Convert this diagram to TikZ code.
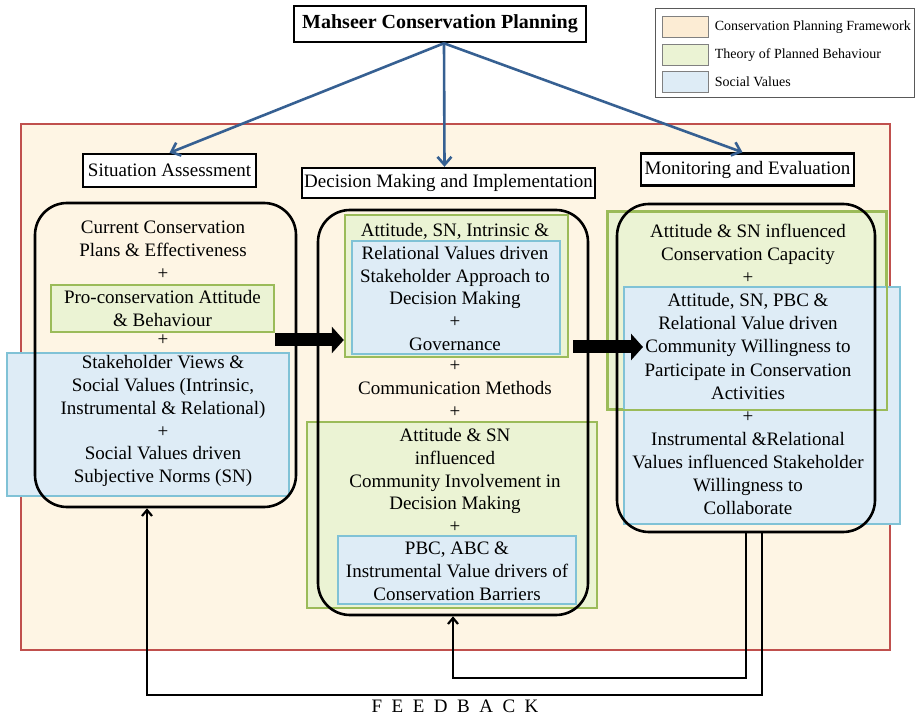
\documentclass[tikz,border=0pt]{standalone}
\usepackage{fontspec}
\setmainfont{Liberation Serif}
\usetikzlibrary{arrows.meta, positioning}

\definecolor{frameRed}{RGB}{192,80,77}
\definecolor{frameFill}{RGB}{254,245,228}
\definecolor{cpfSwatch}{RGB}{252,236,212}
\definecolor{tpbEdge}{RGB}{155,187,89}
\definecolor{tpbFill}{RGB}{235,243,212}
\definecolor{svEdge}{RGB}{128,194,214}
\definecolor{svFill}{RGB}{222,236,246}
\definecolor{planBlue}{RGB}{54,96,146}

\begin{document}
\begin{tikzpicture}[x=0.5pt, y=-0.5pt,
            every node/.style={ font=\fontsize{9.5}{11.45}\selectfont },
            titlebox/.style={ rectangle, draw, line width=1.3pt, fill=white, minimum width=146pt, minimum height=18pt, font=\fontsize{10}{12}\selectfont\bfseries },
            stagebox/.style={ rectangle, draw, line width=1.2pt, fill=white, inner sep=0pt },
            phasebox/.style={ rectangle, draw, line width=1.3pt, rounded corners=16pt },
            tpb/.style={ rectangle, draw=tpbEdge, line width=1.2pt, fill=tpbFill },
            socval/.style={ rectangle, draw=svEdge, line width=1.2pt, fill=svFill },
            txt/.style={ align=center, inner sep=0pt },
            swatch/.style={ rectangle, draw=gray, line width=0.5pt, minimum width=23pt, minimum height=10.5pt },
            legtxt/.style={ inner sep=0pt, font=\fontsize{7}{8}\selectfont },
            planarrow/.style={ draw=planBlue, line width=1.3pt, -{Straight Barb[length=4pt, width=7pt]} },
            fatarrow/.style={ line width=6.5pt, -{Triangle[length=6pt, width=13pt]} },
            fbline/.style={ line width=1.1pt, -{Straight Barb[length=3pt, width=5pt]} }
        ]
            \useasboundingbox (0,0) rectangle (915,716);

            % Framework area
            \node (frame) [rectangle, draw=frameRed, line width=1pt, fill=frameFill, minimum width=434.5pt, minimum height=263pt] at (455.5,387) {};

            % Legend
            \node (legend) [rectangle, draw=gray!70!black, line width=0.5pt, minimum width=129.5pt, minimum height=44.5pt] at (784.5,53.5) {};
            \node (swcpf) [swatch, fill=cpfSwatch] at (685,27.5) {};
            \node (swtpb) [swatch, fill=tpbFill] at (685,55) {};
            \node (swsv) [swatch, fill=svFill] at (685,82) {};
            \node (lgcpf) [legtxt, right=3pt of swcpf] {Conservation Planning Framework};
            \node (lgtpb) [legtxt, right=3pt of swtpb] {Theory of Planned Behaviour};
            \node (lgsv) [legtxt, right=3pt of swsv] {Social Values};

            % Main node
            \node (title) [titlebox] at (440,24) {Mahseer Conservation Planning};

            % Stage nodes
            \node (sa) [stagebox, minimum width=86.5pt, minimum height=16.5pt] at (169.5,170.5) {Situation Assessment};
            \node (dmi) [stagebox, minimum width=146.5pt, minimum height=15pt] at (448.5,183) {Decision Making and Implementation};
            \node (me) [stagebox, minimum width=106.5pt, minimum height=16pt] at (747.5,169.5) {Monitoring and Evaluation};

            % Arrows
            \draw[planarrow] ([xshift=2pt]title.south) -- (sa.north);
            \draw[planarrow] ([xshift=2pt]title.south) -- ([xshift=-2pt]dmi.north);
            \draw[planarrow] ([xshift=2pt]title.south) -- ([xshift=-2.5pt]me.north);

            % Theory and value boxes
            \node (proatt) [tpb, minimum width=111.5pt, minimum height=23.5pt, txt] at (162.5,308.5) {Pro-conservation Attitude\\\& Behaviour};
            \node (svblue) [socval, minimum width=141pt, minimum height=71.5pt] at (148,424.5) {};
            \node (dmgreen) [tpb, minimum width=111.5pt, minimum height=71pt] at (456.5,286) {};
            \node (dmblue) [socval, minimum width=104pt, minimum height=56.5pt] at (456,297.5) {};
            \node (cigreen) [tpb, minimum width=145pt, minimum height=93pt] at (452,515) {};
            \node (cbblue) [socval, minimum width=119pt, minimum height=34pt] at (457,570) {};
            \node (ccgreen) [tpb, minimum width=139pt, minimum height=98.5pt] at (747,310.5) {};
            \node (cwblue) [socval, minimum width=138pt, minimum height=118.5pt] at (762,405.5) {};
            \draw[tpbEdge, line width=1.2pt] (ccgreen.south west) rectangle (ccgreen.north east);

            % Phase boxes
            \node (sabox) [phasebox, minimum width=130.5pt, minimum height=152pt] at (165.5,355) {};
            \node (dmbox) [phasebox, minimum width=135pt, minimum height=202.5pt] at (453,412.5) {};
            \node (mebox) [phasebox, minimum width=129pt, minimum height=164pt] at (746,368) {};

            % Texts
            \node (satop) [txt] at (163,250) {Current Conservation\\Plans \& Effectiveness\\+};
            \node (saplus) [txt] at (163,340) {+};
            \node (svtxt) [txt] at (163,421) {Stakeholder Views \&\\Social Values (Intrinsic,\\Instrumental \& Relational)\\+\\Social Values driven\\Subjective Norms (SN)};
            \node (dmtxt) [txt] at (455,287) {Attitude, SN, Intrinsic \&\\Relational Values driven\\Stakeholder Approach to\\Decision Making\\+\\Governance};
            \node (dmmid) [txt] at (455,389) {+\\Communication Methods\\+};
            \node (citxt) [txt] at (455,480.5) {Attitude \& SN\\influenced\\Community Involvement in\\Decision Making\\+};
            \node (cbtxt) [txt] at (457,571) {PBC, ABC \&\\Instrumental Value drivers of\\Conservation Barriers};
            \node (metxt) [txt, font=\fontsize{9.5}{11.55}\selectfont] at (748,369.5) {Attitude \& SN influenced\\Conservation Capacity\\+\\Attitude, SN, PBC \&\\Relational Value driven\\Community Willingness to\\Participate in Conservation\\Activities\\+\\Instrumental \&Relational\\Values influenced Stakeholder\\Willingness to\\Collaborate};

            % Flow arrows
            \coordinate (dmout) at (573,347);
            \coordinate (mein) at (643,347);
            \draw[fatarrow] (proatt.east |- saplus) -- (dmgreen.west |- saplus);
            \draw[fatarrow] (dmout) -- (mein);

            % Feedback
            \draw[fbline] (mebox.south) -- ++(0,145) -| (dmbox.south);
            \draw[fbline] ([xshift=8pt]mebox.south) -- ++(0,162) -| ([xshift=-9.25pt]sabox.south);
            \node (feedback) [txt] at (455,706) {F\enspace E\enspace E\enspace D\enspace B\enspace A\enspace C\enspace K};

        \end{tikzpicture}
\end{document}
